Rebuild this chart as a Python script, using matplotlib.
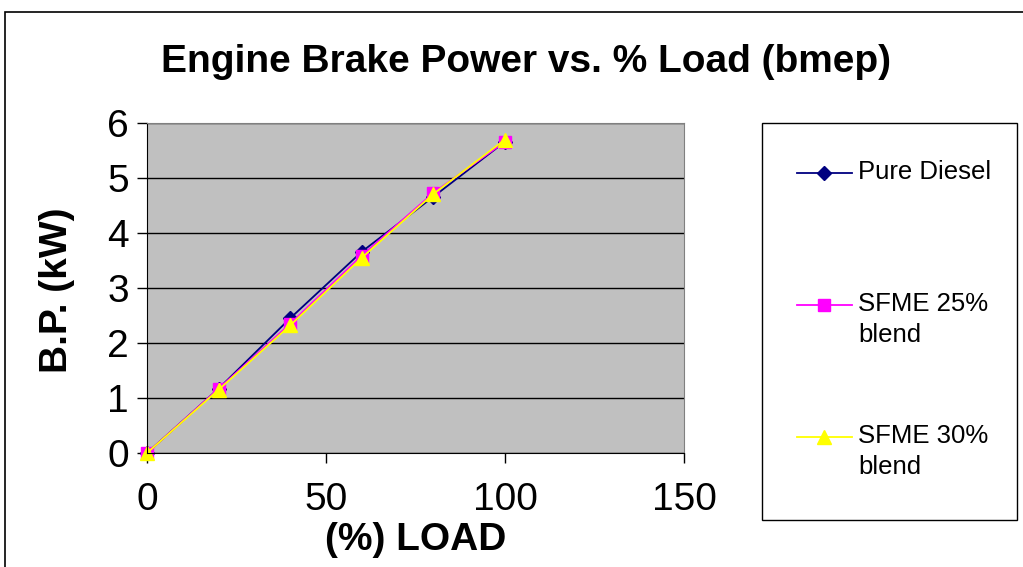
import matplotlib
matplotlib.use("Agg")
import matplotlib.pyplot as plt
from matplotlib.lines import Line2D

plt.rcParams['font.family'] = ['Liberation Sans', 'DejaVu Sans']

load = [0, 20, 40, 60, 80, 100]
pure_diesel = [0, 1.17, 2.45, 3.66, 4.66, 5.66]
sfme_25 = [0, 1.17, 2.35, 3.59, 4.73, 5.66]
sfme_30 = [0, 1.15, 2.32, 3.55, 4.71, 5.70]

series = [
    ("Pure Diesel", pure_diesel, "#000080", "D", 7),
    ("SFME 25%\nblend", sfme_25, "#FF00FF", "s", 8),
    ("SFME 30%\nblend", sfme_30, "#FFFF00", "^", 10),
]

W, H = 1023, 567
fig = plt.figure(figsize=(W / 100, H / 100), dpi=100)
fig.patch.set_facecolor("white")
# outer chart border
fig.add_artist(plt.Rectangle((5 / W, -0.01), 1.1, 1 - 12 / H + 0.01,
                             transform=fig.transFigure, fill=False,
                             edgecolor="black", linewidth=1.2))

ax = fig.add_axes([147 / W, 1 - 453 / H, (684 - 147) / W, (453 - 123) / H])
ax.set_facecolor("#C0C0C0")

for name, vals, color, marker, ms in series:
    ax.plot(load, vals, color=color, marker=marker, markersize=ms,
            linewidth=1.3, label=name, clip_on=False)

ax.set_xlim(0, 150)
ax.set_ylim(0, 6)
ax.set_xticks([0, 50, 100, 150])
ax.set_yticks(range(0, 7))
ax.yaxis.grid(True, color="black", linewidth=1)
ax.set_axisbelow(True)
ax.tick_params(labelsize=28, length=7, width=1, direction="out")
ax.tick_params(axis="x", pad=14)
ax.tick_params(axis="y", pad=6)
for side in ("top", "right"):
    ax.spines[side].set_color("#808080")
for side in ("left", "bottom"):
    ax.spines[side].set_color("black")

fig.text(0.514, 1 - 62 / H, "Engine Brake Power vs. % Load (bmep)",
         ha="center", va="center", fontsize=28, fontweight="bold")
fig.text(416 / W, 1 - 540 / H, "(%) LOAD", ha="center", va="center",
         fontsize=28, fontweight="bold")
fig.text(57 / W, 1 - 290 / H, "B.P. (kW)", ha="center", va="center",
         fontsize=28, fontweight="bold", rotation=90)

# legend box drawn by hand to match the spread-out layout
fig.add_artist(plt.Rectangle((762 / W, 1 - 520 / H), (1017 - 762) / W, (520 - 123) / H,
                             transform=fig.transFigure, fill=True, facecolor="white",
                             edgecolor="black", linewidth=1))
entry_y = [173, 305, 437]
for (name, vals, color, marker, ms), yy in zip(series, entry_y):
    fy = 1 - yy / H
    fig.add_artist(Line2D([797 / W, 852 / W], [fy, fy], transform=fig.transFigure,
                          color=color, linewidth=1.3))
    fig.add_artist(Line2D([824 / W], [fy], transform=fig.transFigure, color=color,
                          marker=marker, markersize=ms, linestyle="none"))
    # first text line sits level with the handle
    fig.text(858 / W, fy + 13 / H, name, ha="left", va="top",
             fontsize=18.5, linespacing=1.35)

fig.savefig("out.png", dpi=100)
